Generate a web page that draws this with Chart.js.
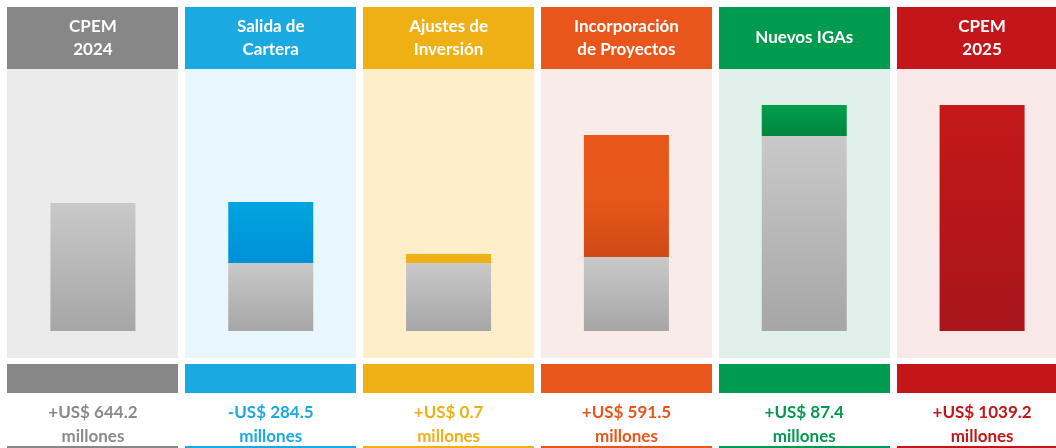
<!DOCTYPE html>
<html>
<head>
<meta charset="utf-8">
<script src="https://cdn.jsdelivr.net/npm/chart.js@4/dist/chart.umd.min.js"></script>
<style>
  html, body { margin: 0; padding: 0; background: #ffffff; overflow: hidden; width: 1056px; height: 448px; }
  #wrap { position: absolute; left: 4px; top: 0; width: 1067px; height: 448px; }
</style>
</head>
<body>
<div id="wrap"><canvas id="c" width="1067" height="448"></canvas></div>
<script>
// ---- data ----
const categories = [['CPEM', '2024'], ['Salida de', 'Cartera'], ['Ajustes de', 'Inversión'], ['Incorporación', 'de Proyectos'], ['Nuevos IGAs'], ['CPEM', '2025']];
const valueLabels = [['+US$ 644.2', 'millones'], ['-US$ 284.5', 'millones'], ['+US$ 0.7', 'millones'], ['+US$ 591.5', 'millones'], ['+US$ 87.4', 'millones'], ['+US$ 1039.2', 'millones']];
// bar heights as drawn in the picture (not strictly to scale with the labels)
const baseValues = [644.2, 342, 342, 372, 981, 0];
const deltaValues = [0, 307, 45, 614, 156, 1137];

// ---- styles ----
const headerColors = ['#878787', '#1ba9e1', '#efb015', '#e9561b', '#009b4e', '#c4161a'];
const panelColors = ['#ebebeb', '#e8f6fd', '#ffeec9', '#f9ebe7', '#e2f0eb', '#f9e8e8'];
const textColors = ['#8a8a8a', '#1ba9e1', '#efb015', '#e9561b', '#009b4e', '#c4161a'];
const deltaGrad = [
  [['0', '#c4c4c4'], ['1', '#a6a6a6']],
  [['0', '#00a5e0'], ['1', '#0090d6']],
  [['0', '#efb015'], ['1', '#efb015']],
  [['0', '#e9581a'], ['0.5', '#e8571a'], ['1', '#cf4a16']],
  [['0', '#00a04e'], ['1', '#00853c']],
  [['0', '#c4181a'], ['1', '#a8151a']]
];
const grayGrad = [['0', '#c9c9c9'], ['1', '#a6a6a6']];
const COLW = 171;

function gradFor(ctx, stops, topVal, botVal, fallback) {
  const chart = ctx.chart;
  if (!chart.chartArea || !chart.scales.y) return fallback;
  const y = chart.scales.y;
  const t = y.getPixelForValue(topVal), b = y.getPixelForValue(botVal);
  if (!(isFinite(t) && isFinite(b)) || t === b) return fallback;
  const g = chart.ctx.createLinearGradient(0, t, 0, b);
  stops.forEach(s => g.addColorStop(+s[0], s[1]));
  return g;
}

const decor = {
  id: 'decor',
  beforeDraw(chart) {
    const c = chart.ctx, x = chart.scales.x, area = chart.chartArea;
    c.save();
    for (let i = 0; i < categories.length; i++) {
      const cx = x.getPixelForValue(i);
      const l = Math.round(cx - COLW / 2);
      c.fillStyle = headerColors[i];
      c.fillRect(l, 7, COLW, area.top - 7);
      c.fillStyle = panelColors[i];
      c.fillRect(l, area.top, COLW, area.bottom - area.top);
      c.fillStyle = headerColors[i];
      c.fillRect(l, area.bottom + 6, COLW, 29);
      c.fillRect(l, 446, COLW, 2);
    }
    c.restore();
  }
};

new Chart(document.getElementById('c'), {
  type: 'bar',
  data: {
    labels: categories,
    datasets: [
      {
        label: 'base',
        data: baseValues,
        stack: 's',
        backgroundColor: (ctx) => {
          if (ctx.dataIndex === undefined) return '#b5b5b5';
          const i = ctx.dataIndex;
          return gradFor(ctx, grayGrad, baseValues[i], 0, '#b5b5b5');
        }
      },
      {
        label: 'delta',
        data: deltaValues,
        stack: 's',
        backgroundColor: (ctx) => {
          if (ctx.dataIndex === undefined) return '#999';
          const i = ctx.dataIndex;
          return gradFor(ctx, deltaGrad[i], baseValues[i] + deltaValues[i], baseValues[i], headerColors[i]);
        }
      }
    ]
  },
  options: {
    responsive: false,
    animation: false,
    devicePixelRatio: 1,
    layout: { padding: 0 },
    datasets: { bar: { categoryPercentage: 1, barPercentage: 0.478, borderWidth: 0 } },
    plugins: { legend: { display: false }, tooltip: { enabled: false }, title: { display: false } },
    scales: {
      x: {
        position: 'top',
        stacked: true,
        offset: true,
        grid: { display: false },
        border: { display: false },
        ticks: {
          padding: 0,
          maxRotation: 0,
          autoSkip: false,
          color: '#ffffff',
          font: (ctx) => ({
            family: 'Lato', weight: 'bold', size: 17,
            lineHeight: (categories[ctx.index] && categories[ctx.index].length === 1) ? 46 / 17 : 23 / 17
          })
        },
        afterFit: (a) => { a.height = 69; }
      },
      x2: {
        type: 'category',
        position: 'bottom',
        labels: valueLabels,
        offset: true,
        grid: { display: false },
        border: { display: false },
        ticks: {
          padding: 35,
          maxRotation: 0,
          autoSkip: false,
          color: (ctx) => textColors[ctx.index],
          font: { family: 'Lato', weight: 'bold', size: 17, lineHeight: 24 / 17 }
        },
        afterFit: (a) => { a.height = 90; }
      },
      y: {
        display: false,
        stacked: true,
        min: -135.9,
        max: 1318.6
      }
    }
  },
  plugins: [decor]
});
</script>
</body>
</html>
